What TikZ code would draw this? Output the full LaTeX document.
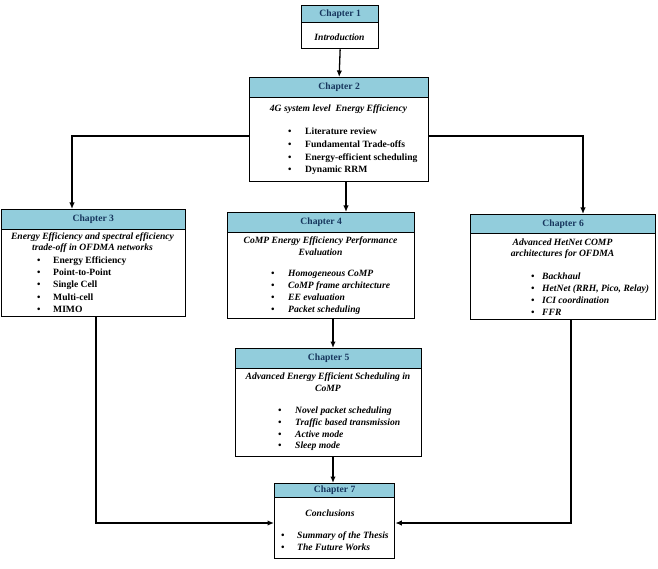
\documentclass[tikz,border=0pt]{standalone}
\usepackage{fontspec}
\setmainfont{Liberation Serif}
\usetikzlibrary{arrows.meta}
\definecolor{hdrfill}{RGB}{146,205,220}
\definecolor{hdrtext}{RGB}{23,54,93}
\begin{document}
\begin{tikzpicture}[x=1pt,y=-1pt,
  every node/.style={font=\fontsize{9.6}{11.5}\selectfont\bfseries},
  box/.style={draw, line width=1.3pt, fill=white, anchor=north west, inner sep=0pt},
  hdr/.style={draw, line width=1.3pt, fill=hdrfill, text=hdrtext, anchor=north west, inner sep=0pt},
  ttl/.style={font=\fontsize{9.6}{11.5}\selectfont\bfseries\itshape, align=center, inner sep=0pt},
  itm/.style={anchor=west, inner sep=0pt, text height=6.6pt, text depth=2pt},
  iitm/.style={itm, font=\fontsize{9.6}{11.5}\selectfont\bfseries\itshape},
  conn/.style={line width=1.3pt},
  arr/.style={conn, -{Latex[length=6.5pt,width=5.5pt]}}
]
\useasboundingbox (0,0) rectangle (658,569);

% Chapter 1
\node[box, minimum width=77pt, minimum height=43pt] (c1) at (301,5) {};
\node[hdr, minimum width=77pt, minimum height=17pt] (c1h) at (301,5) {Chapter 1};
\node[ttl] (c1t) at (339.5,37) {Introduction};

% Chapter 2
\node[box, minimum width=179pt, minimum height=104pt] (c2) at (249,77) {};
\node[hdr, minimum width=179pt, minimum height=20pt] (c2h) at (249,77) {Chapter 2};
\node[ttl] (c2t) at (338.5,109) {4G system level\ \ Energy Efficiency};
\foreach \n/\yy/\txt in {1/132/Literature review, 2/145/Fundamental Trade-offs, 3/158/Energy-efficient scheduling, 4/170/Dynamic RRM}
  \node[itm] (c2b\n) at (288,\yy) {\makebox[17pt][l]{\textbullet}\txt};

% Chapter 3
\node[box, minimum width=184pt, minimum height=107pt] (c3) at (0.7,209) {};
\node[hdr, minimum width=184pt, minimum height=20pt] (c3h) at (0.7,209) {Chapter 3};
\node[ttl] (c3t) at (92.5,242.5) {Energy Efficiency and spectral efficiency\\trade-off in OFDMA networks};
\foreach \n/\yy/\txt in {1/261/Energy Efficiency, 2/273/Point-to-Point, 3/285.5/Single Cell, 4/298/Multi-cell, 5/310/MIMO}
  \node[itm] (c3b\n) at (37,\yy) {\makebox[16pt][l]{\textbullet}\txt};

% Chapter 4
\node[box, minimum width=187pt, minimum height=106pt] (c4) at (227,212) {};
\node[hdr, minimum width=187pt, minimum height=20pt] (c4h) at (227,212) {Chapter 4};
\node[ttl] (c4t) at (320.5,246) {CoMP Energy Efficiency Performance\\Evaluation};
\foreach \n/\yy/\txt in {1/274/Homogeneous CoMP, 2/286/CoMP frame architecture, 3/298/EE evaluation, 4/310/Packet scheduling}
  \node[iitm] (c4b\n) at (271,\yy) {\makebox[17pt][l]{\textbullet}\txt};

% Chapter 5
\node[box, minimum width=186pt, minimum height=108pt] (c5) at (235,348) {};
\node[hdr, minimum width=186pt, minimum height=20pt] (c5h) at (235,348) {Chapter 5};
\node[ttl] (c5t) at (328,382) {Advanced Energy Efficient Scheduling in\\CoMP};
\foreach \n/\yy/\txt in {1/411/Novel packet scheduling, 2/423/Traffic based transmission, 3/435/Active mode, 4/446.5/Sleep mode}
  \node[iitm] (c5b\n) at (278,\yy) {\makebox[17pt][l]{\textbullet}\txt};

% Chapter 6
\node[box, minimum width=185pt, minimum height=105pt] (c6) at (470,214) {};
\node[hdr, minimum width=185pt, minimum height=19pt] (c6h) at (470,214) {Chapter 6};
\node[ttl] (c6t) at (562.5,248.5) {Advanced HetNet COMP\\architectures for OFDMA};
\foreach \n/\yy/\txt in {1/277/Backhaul, 2/289/{HetNet (RRH, Pico, Relay)}, 3/301/ICI coordination, 4/313/FFR}
  \node[iitm] (c6b\n) at (531,\yy) {\makebox[11pt][l]{\textbullet}\txt};

% Chapter 7
\node[box, minimum width=120pt, minimum height=75pt] (c7) at (274,483) {};
\node[hdr, minimum width=120pt, minimum height=14pt] (c7h) at (274,483) {Chapter 7};
\node[ttl] (c7t) at (330,513) {Conclusions};
\foreach \n/\yy/\txt in {1/536/Summary of the Thesis, 2/548/The Future Works}
  \node[iitm] (c7b\n) at (281,\yy) {\makebox[16pt][l]{\textbullet}\txt};

% Connectors
\draw[arr] (c1.south) -- (c2.north);
\draw[arr] (c2.west |- 0,136) -| (72,0 |- c3.north);
\draw[arr] (c2.east |- 0,136) -| (583,0 |- c6.north);
\draw[arr] (346,0 |- c2.south) -- (346,0 |- c4.north);
\draw[arr] (333,0 |- c4.south) -- (333,0 |- c5.north);
\draw[arr] (333,0 |- c5.south) -- (333,0 |- c7.north);
\draw[arr] (96,0 |- c3.south) |- (c7.west |- 0,523);
\draw[arr] (571,0 |- c6.south) |- (c7.east |- 0,523);
\end{tikzpicture}
\end{document}
